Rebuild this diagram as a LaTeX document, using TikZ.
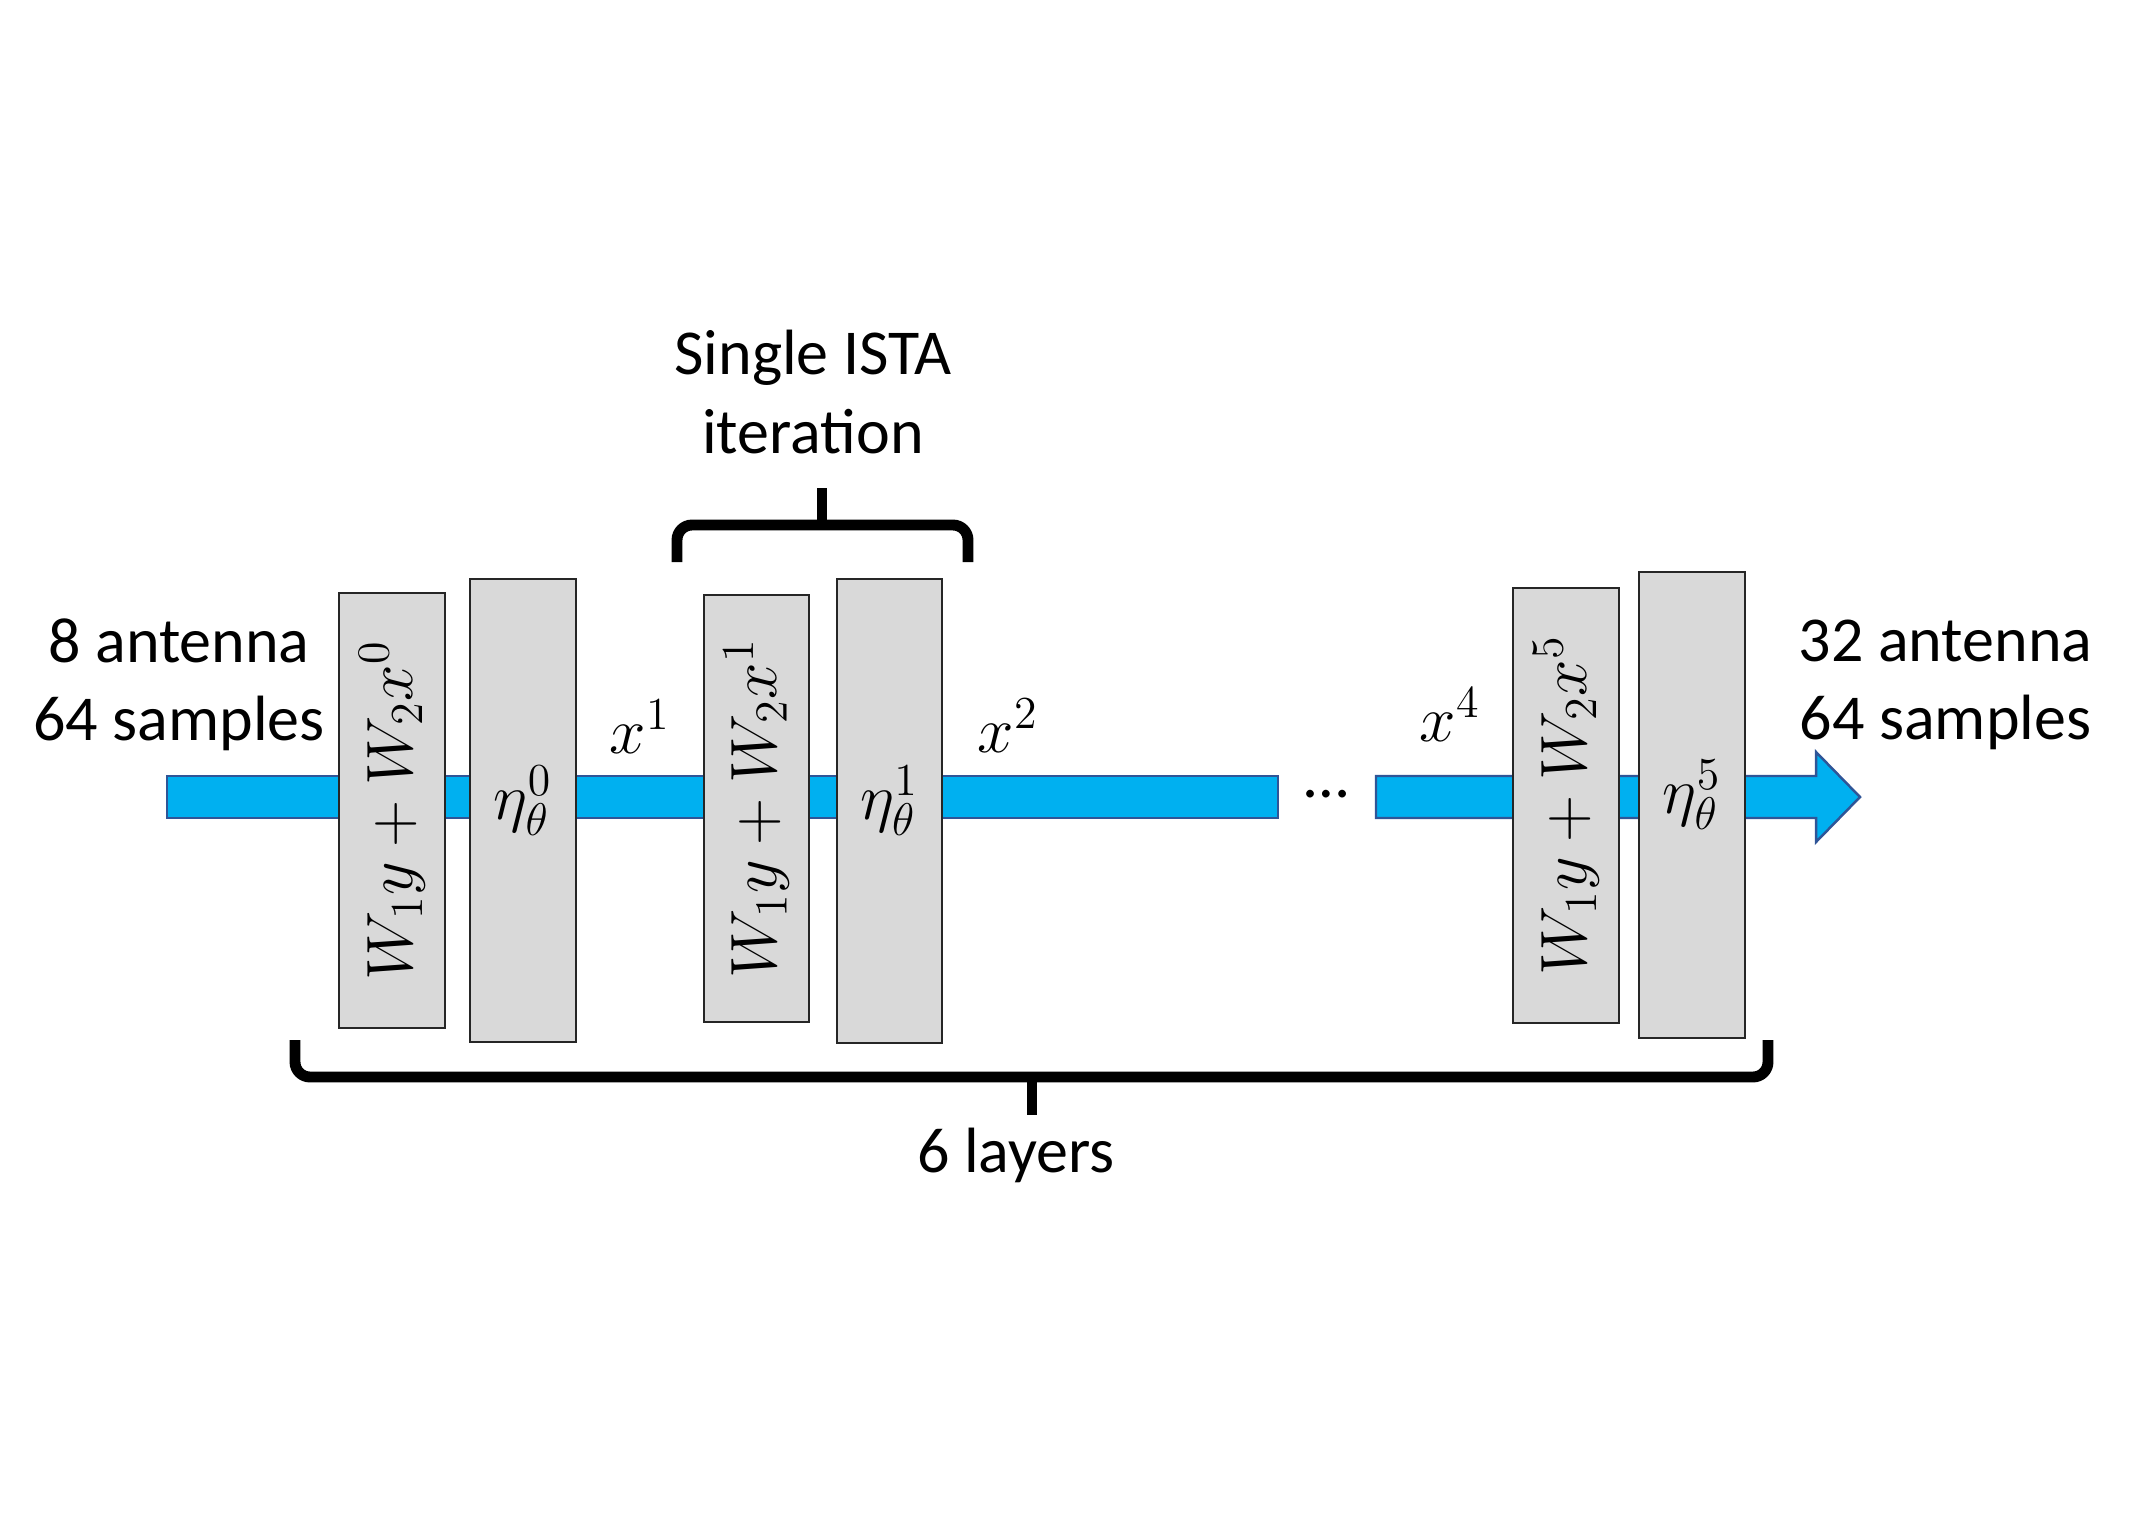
\RequirePackage{fix-cm}
\documentclass[tikz,border=0pt]{standalone}
\usepackage{fontspec}
\setmainfont{Carlito}
\definecolor{flowblue}{HTML}{00B0F0}
\definecolor{flowedge}{HTML}{2F5597}
\definecolor{boxgray}{HTML}{D9D9D9}
\newcommand{\uplift}[1]{\raisebox{0.1cm}[\height][\depth]{#1}}
\begin{document}
\begin{tikzpicture}[x=0.01cm, y=-0.01cm,
  layerbox/.style={draw=black!85, fill=boxgray, line width=0.6pt, inner sep=0pt,
                   font=\fontsize{18.6}{22}\selectfont},
  mathlbl/.style={inner sep=0pt, font=\fontsize{18.6}{22}\selectfont},
  txt/.style={inner sep=0pt, align=center, font=\fontsize{18.2}{22.2}\selectfont},
  flow/.style={fill=flowblue, draw=flowedge, line width=0.7pt},
  bracket/.style={draw=black, line width=3.1pt, rounded corners=0.15cm},
  brtip/.style={draw=black, line width=3.1pt},
]
\useasboundingbox (0,0) rectangle (2154,1530);
% flow arrow (drawn first, boxes sit on top)
\coordinate (sa) at (167,776);
\coordinate (sb) at (1278,818);
\draw[flow] (sa) rectangle (sb);
\coordinate (ta) at (1376,776);
\coordinate (tip) at (1860,797);
\draw[flow] (ta) -- (1816,776) -- (1816,752) -- (tip) -- (1816,842) -- (1816,818) -- (1376,818) -- cycle;
% layer boxes with their labels
\node[layerbox, minimum width=1.06cm, minimum height=4.35cm] (b1) at (392,810.5)
  {\rotatebox{90}{$W_1y+W_2x^0$}};
\node[layerbox, minimum width=1.06cm, minimum height=4.63cm] (b2) at (523,810.5)
  {\uplift{$\eta_\theta^0$}};
\node[layerbox, minimum width=1.05cm, minimum height=4.27cm] (b3) at (756.5,808.5)
  {\rotatebox{90}{$W_1y+W_2x^1$}};
\node[layerbox, minimum width=1.05cm, minimum height=4.64cm] (b4) at (889.5,811)
  {\uplift{$\eta_\theta^1$}};
\node[layerbox, minimum width=1.06cm, minimum height=4.35cm] (b5) at (1566,805.5)
  {\rotatebox{90}{$W_1y+W_2x^5$}};
\node[layerbox, minimum width=1.06cm, minimum height=4.66cm] (b6) at (1692,805)
  {\uplift{$\eta_\theta^5$}};
% signals
\node[mathlbl, anchor=base] (x1) at (640,753) {$x^1$};
\node[mathlbl, anchor=base] (x2) at (1008,752) {$x^2$};
\node[mathlbl, anchor=base] (x4) at (1450,741) {$x^4$};
\node[txt, anchor=base] (dots) at (1327,797) {…};
% side texts
\node[txt] (inp) at (179,685) {8 antenna\\64 samples};
\node[txt] (outp) at (1945.5,685) {32 antenna\\64 samples};
% top brace
\draw[bracket] (677,562) -- (677,525) -- (968,525) -- (968,562);
\draw[brtip] (822,526) -- (822,488);
\node[txt] (ista) at (813,392) {Single ISTA\\iteration};
% bottom brace
\draw[bracket] (295,1040) -- (295,1077) -- (1768,1077) -- (1768,1040);
\draw[brtip] (1032,1076) -- (1032,1115);
\node[txt] (layers) at (1016,1155) {6 layers};
\end{tikzpicture}
\end{document}
